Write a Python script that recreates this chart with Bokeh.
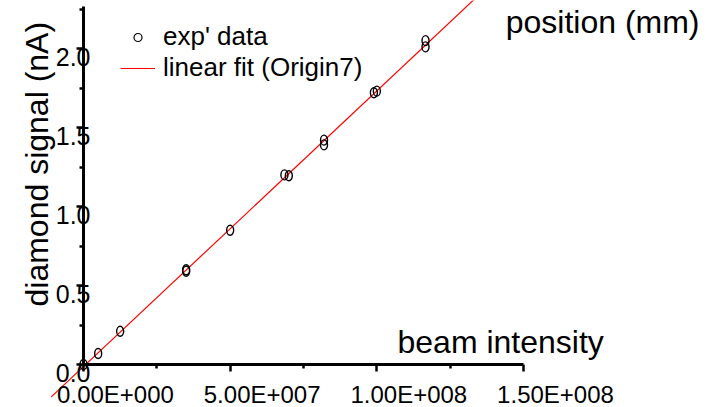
import numpy as np
from bokeh.plotting import figure
from bokeh.models import (Range1d, LinearAxis, FixedTicker, Label, Legend,
                          LegendItem, ColumnDataSource)
from bokeh.embed import file_html
from bokeh.resources import INLINE

# Measured diamond signal versus beam intensity
intensity = [0.0, 5.0e6, 1.25e7, 3.5e7, 3.5e7, 5.0e7, 6.85e7, 7.0e7,
             8.2e7, 8.2e7, 9.9e7, 1.0e8, 1.166e8, 1.166e8]
signal = [0.0, 0.07, 0.21, 0.60, 0.59, 0.85, 1.20, 1.195,
          1.42, 1.39, 1.72, 1.73, 2.05, 2.01]

# Span over which the linear fit is evaluated
fit_span = [-1.1e7, 1.4e8]

x_ticks = [0, 5.0e7, 1.0e8, 1.5e8]
x_minor = [2.5e7, 7.5e7, 1.25e8]
x_tick_labels = ["0.00E+000", "5.00E+007", "1.00E+008", "1.50E+008"]
y_ticks = [0.0, 0.5, 1.0, 1.5, 2.0]
y_minor = [0.25, 0.75, 1.25, 1.75, 2.25]
y_tick_labels = ["0.0", "0.5", "1.0", "1.5", "2.0"]

FONT = "Liberation Sans"
W, H = 714, 407

# pixel geometry of the drawn axes inside the canvas
ox, oy = 83, 364                   # origin in canvas pixels (from top-left)
sx = 1.5e8 / 440.0                 # data units per pixel, x
sy = 2.0 / 316.0                   # data units per pixel, y

x0, x1 = -ox * sx, (W - ox) * sx
y0, y1 = -(H - oy) * sy, oy * sy

p = figure(width=W, height=H, output_backend="svg", toolbar_location=None,
           x_axis_type=None, y_axis_type=None,
           x_range=Range1d(x0, x1), y_range=Range1d(y0, y1),
           min_border=0, outline_line_color=None)
p.background_fill_color = "white"
p.border_fill_color = "white"

# tick labels are drawn by separate, slightly offset axes
p.extra_x_ranges = {"xl": Range1d(x0 - 32 * sx, x1 - 32 * sx)}
p.extra_y_ranges = {"yl": Range1d(y0 + 8 * sy, y1 + 8 * sy)}

def style_line_axis(ax, major, minor):
    ax.ticker = FixedTicker(ticks=major, minor_ticks=minor)
    ax.axis_line_width = 3
    ax.axis_line_color = "black"
    ax.major_tick_line_width = 2.5
    ax.minor_tick_line_width = 2.5
    ax.major_tick_out = 7
    ax.major_tick_in = 0
    ax.minor_tick_out = 4
    ax.minor_tick_in = 0
    ax.major_label_text_color = None
    ax.fixed_location = 0

xaxis = LinearAxis(bounds=(0, 1.5e8))
style_line_axis(xaxis, x_ticks, x_minor)
p.add_layout(xaxis, "below")

yaxis = LinearAxis(bounds=(0, 2.265))
style_line_axis(yaxis, y_ticks, y_minor)
p.add_layout(yaxis, "left")

def style_label_axis(ax, major, labels, size, standoff):
    ax.ticker = FixedTicker(ticks=major, minor_ticks=[])
    ax.major_label_overrides = {t: s for t, s in zip(major, labels)}
    ax.axis_line_color = None
    ax.major_tick_line_color = None
    ax.minor_tick_line_color = None
    ax.major_tick_out = 0
    ax.major_tick_in = 0
    ax.major_label_text_font = FONT
    ax.major_label_text_font_size = size
    ax.major_label_text_color = "black"
    ax.major_label_standoff = standoff
    ax.fixed_location = 0

xlab = LinearAxis(x_range_name="xl")
style_label_axis(xlab, x_ticks, x_tick_labels, "24px", 16)
p.add_layout(xlab, "below")

ylab = LinearAxis(y_range_name="yl")
style_label_axis(ylab, y_ticks, y_tick_labels, "25px", -7)
p.add_layout(ylab, "left")

# linear fit of the measurements
slope, intercept = np.polyfit(intensity, signal, 1)
fit_x = np.array(fit_span)
fit_line = p.line(fit_x, slope * fit_x + intercept, line_color="#ff0000",
                  line_width=1.2)

src = ColumnDataSource(dict(x=intensity, y=signal))
p.ellipse(x="x", y="y", width=7, height=10, width_units="screen",
          height_units="screen", source=src, fill_color=None,
          line_color="black", line_width=1.4)
marker = p.scatter(x="x", y="y", source=src, marker="circle", size=8,
                   fill_color=None, line_color="black", line_width=1.2,
                   visible=False)

legend = Legend(items=[LegendItem(label="exp' data", renderers=[marker]),
                       LegendItem(label="linear fit (Origin7)",
                                  renderers=[fit_line])],
                location=(120, 324), orientation="vertical",
                border_line_color=None, background_fill_alpha=0,
                padding=0, margin=0, spacing=-3,
                glyph_width=35, glyph_height=20, label_height=20,
                label_standoff=8, label_text_font=FONT,
                label_text_color="black", label_text_font_size="26px")
p.add_layout(legend, "center")

title_style = dict(x_units="screen", y_units="screen", text_font=FONT,
                   text_font_size="32px", text_color="black",
                   text_baseline="bottom")
p.add_layout(Label(x=397, y=48, text="beam intensity", **title_style))
p.add_layout(Label(x=699, y=368, text="position (mm)", text_align="right",
                   **title_style))
p.add_layout(Label(x=54, y=101, angle=np.pi / 2, text="diamond signal (nA)",
                   **title_style))

open("out.html", "w").write(file_html(p, INLINE))
